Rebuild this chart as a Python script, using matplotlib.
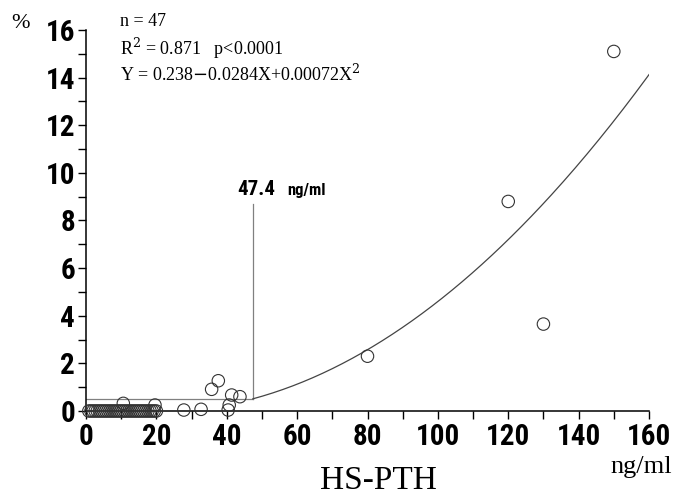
import numpy as np
import matplotlib
matplotlib.use("Agg")
import matplotlib.pyplot as plt
from matplotlib.ticker import MultipleLocator

# data
low_x = [0.8, 2.0, 3.2, 4.4, 5.6, 6.8, 8.0, 9.2, 10.4, 11.6, 12.8, 14.0, 15.2, 16.4,
         17.6, 18.8, 20.0, 1.4, 2.6, 3.8, 5.0, 6.2, 7.4, 8.6, 9.8, 11.0, 12.2, 13.4,
         14.6, 15.8, 17.0, 18.2, 19.4]
low_y = [0.0] * 33
other_x = [10.6, 19.6, 27.8, 32.7, 35.7, 37.6, 40.4, 40.7, 41.4, 43.75, 80, 120, 130, 150]
other_y = [0.32, 0.25, 0.04, 0.07, 0.91, 1.27, 0.04, 0.25, 0.67, 0.60, 2.3, 8.8, 3.65, 15.1]
coef = [0.238, -0.0284, 0.00072]
cutoff = 47.4
cut_top = 8.7
xticks = [0, 20, 40, 60, 80, 100, 120, 140, 160]
yticks = [0, 2, 4, 6, 8, 10, 12, 14, 16]

cond = ["Roboto Condensed", "Archivo Narrow", "IBM Plex Sans Condensed", "Open Sans Condensed", "DejaVu Sans"]
serif = ["Liberation Serif", "DejaVu Serif"]

fig = plt.figure(figsize=(6.81, 4.96), dpi=100)
ax = fig.add_axes([0.1263, 0.1714, 0.8267, 0.7681])

xs = np.array(low_x + other_x)
ys = np.array(low_y + other_y)
ax.scatter(xs, ys, s=80, facecolors="none", edgecolors="#333333", linewidths=0.8,
           clip_on=False, zorder=3)

cx = np.linspace(cutoff, 160, 200)
cy = coef[0] + coef[1] * cx + coef[2] * cx ** 2
ax.plot(cx, cy, color="#444444", lw=0.9, zorder=2)
y_cut = coef[0] + coef[1] * cutoff + coef[2] * cutoff ** 2
ax.plot([0, cutoff], [y_cut, y_cut], color="#808080", lw=0.9, zorder=1)
ax.plot([cutoff, cutoff], [y_cut, cut_top], color="#808080", lw=0.9, zorder=1)

ax.set_xlim(0, 160)
ax.set_ylim(0, 16)
ax.spines["top"].set_visible(False)
ax.spines["right"].set_visible(False)
for s in ("left", "bottom"):
    ax.spines[s].set_linewidth(1.1)
ax.set_xticks(xticks)
ax.set_yticks(yticks)
ax.xaxis.set_minor_locator(MultipleLocator(10))
ax.yaxis.set_minor_locator(MultipleLocator(1))
ax.tick_params(which="both", direction="out", length=6, width=1.0, color="black")
ax.set_xticklabels([str(t) for t in xticks], family=cond, weight="black", size=21)
ax.set_yticklabels([str(t) for t in yticks], family=cond, weight="black", size=21)
ax.tick_params(axis="x", pad=3)
ax.tick_params(axis="y", pad=2)

fig.text(20 / 681, 1 - 24 / 496, "%", family=serif, size=16, va="center", ha="center")
fig.text(378 / 681, 1 - 489 / 496, "HS-PTH", family=serif, size=24, va="baseline", ha="center")
fig.text(610 / 681, 1 - 473 / 496, "ng/ml", family=serif, size=19, va="baseline", ha="left")

fig.text(120 / 681, 1 - 22 / 496, "n = 47", family=serif, size=13, va="center", ha="left")
fig.text(120 / 681, 1 - 48 / 496, r"R$^2$ = 0.871   p<0.0001", family=serif, size=13,
         va="center", ha="left", math_fontfamily="dejavuserif")
fig.text(120 / 681, 1 - 74 / 496, r"Y = 0.238$-$0.0284X+0.00072X$^2$", family=serif, size=13,
         va="center", ha="left", math_fontfamily="dejavuserif")

fig.text(237 / 681, 1 - 195 / 496, "47.4", family=cond, weight="black",
         size=15, va="baseline", ha="left")
fig.text(287 / 681, 1 - 195 / 496, "ng/ml", family=cond, weight="black",
         size=12, va="baseline", ha="left")

fig.savefig("out.png", dpi=100)
